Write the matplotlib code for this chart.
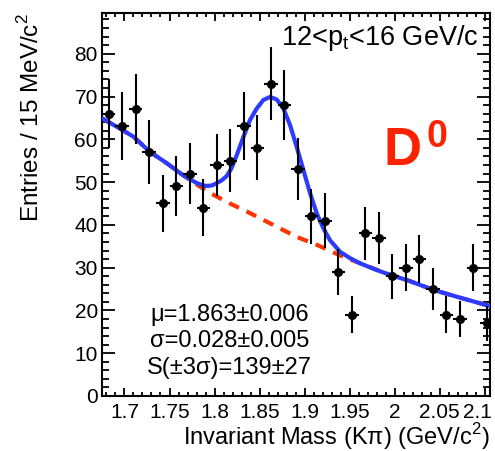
import numpy as np
import matplotlib
matplotlib.use("Agg")
import matplotlib.pyplot as plt
import matplotlib.transforms as mtransforms
from matplotlib.ticker import MultipleLocator, FormatStrFormatter

plt.rcParams['font.family'] = ['Liberation Sans', 'DejaVu Sans']
plt.rcParams['mathtext.fontset'] = 'custom'
plt.rcParams['mathtext.rm'] = 'Liberation Sans'

# histogram: bin centres (15 MeV bins) and counts
massa = [1.6825 + 0.015 * i for i in range(29)]
contagens = [66, 63, 67, 57, 45, 49, 52, 44, 54, 55, 63, 58, 73, 68, 53,
             42, 41, 29, 19, 38, 37, 28, 30, 32, 25, 19, 18, 30, 17]
erros = np.sqrt(contagens)

# fit curve (signal + background)
ajuste_x = [1.675, 1.695, 1.710, 1.728, 1.747, 1.765, 1.780, 1.786, 1.791,
            1.797, 1.802, 1.808, 1.8135, 1.819, 1.8247, 1.832, 1.8394,
            1.8469, 1.8543, 1.8617, 1.8691, 1.8765, 1.8839, 1.8913, 1.8987,
            1.9061, 1.9135, 1.9209, 1.9283, 1.9394, 1.9506, 1.9617, 1.978,
            1.995, 2.0136, 2.043, 2.069, 2.106]
ajuste_y = [64.9, 62.5, 60.6, 57.1, 54.4, 51.6, 49.8, 49.3, 49.1,
            49.2, 49.7, 50.4, 51.4, 53.3, 56.3, 60.5, 64.5,
            67.2, 69.2, 69.9, 69.3, 67.2, 63.3, 58.2, 52.8,
            47.4, 42.7, 39.2, 36.4, 33.7, 32.2, 31.0, 29.6,
            28.3, 27.1, 24.8, 23.2, 21.0]

# background only
fundo_x = [1.675, 1.695, 1.710, 1.728, 1.747, 1.765, 1.784, 1.799, 1.817,
           1.836, 1.865, 1.891, 1.914, 1.939, 1.962, 1.995, 2.014, 2.043,
           2.069, 2.106]
fundo_y = [64.9, 62.5, 60.6, 57.1, 54.4, 51.6, 48.9, 47.0, 45.0,
           43.1, 40.0, 37.2, 35.3, 32.9, 31.0, 28.3, 27.1, 24.8,
           23.2, 21.0]

fig = plt.figure(figsize=(4.95, 4.51), dpi=100)
ax = fig.add_axes([0.206, 0.122, 0.784, 0.849])

ax.plot(fundo_x, fundo_y, color='#ff3300', lw=3, ls=(0, (2.6, 2.0)), zorder=2)
ax.plot(ajuste_x, ajuste_y, color='#2b3bff', lw=3, zorder=3,
        solid_capstyle='round', solid_joinstyle='round')
ax.errorbar(massa, contagens, yerr=erros, xerr=0.0075, fmt='o', color='black',
            ms=5.5, elinewidth=1.5, capsize=0, zorder=4)

ax.set_xlim(1.675, 2.106)
ax.set_ylim(0, 89.5)

ax.xaxis.set_major_locator(MultipleLocator(0.05))
ax.xaxis.set_minor_locator(MultipleLocator(0.01))
ax.xaxis.set_major_formatter(FormatStrFormatter('%g'))
ax.yaxis.set_major_locator(MultipleLocator(10))
ax.yaxis.set_minor_locator(MultipleLocator(2))

ax.tick_params(axis='both', which='both', direction='in', top=True, right=True,
               width=1.3, labelsize=15)
ax.tick_params(axis='x', which='major', length=6, pad=5)
ax.tick_params(axis='x', which='minor', length=2.6)
ax.tick_params(axis='y', which='major', length=9.5, pad=3)
ax.tick_params(axis='y', which='minor', length=4.8)
for s in ax.spines.values():
    s.set_linewidth(1.5)

# last x label (2.1) pushed a bit left so it stays inside the canvas
fig.canvas.draw()
ultimo = [t for t in ax.get_xticklabels() if t.get_text() == '2.1']
for t in ultimo:
    t.set_transform(t.get_transform() +
                    mtransforms.ScaledTranslation(-5 / 72, 0, fig.dpi_scale_trans))

ax.set_xlabel(u'Invariant Mass (K\u03c0) (GeV/c$^2$)', fontsize=17, loc='right')
ax.set_ylabel(r'Entries / 15 MeV/c$^2$', fontsize=17.5, loc='top')
ax.xaxis.set_label_coords(1.0, -0.066)
ax.yaxis.set_label_coords(-0.15, 1.0)

ax.text(2.0935, 82, r'12<p$_\mathregular{t}$<16 GeV/c', fontsize=19.5,
        ha='right', va='baseline')
ax.text(1.988, 54, 'D', fontsize=38, fontweight='bold', color='#ff2200',
        ha='left', va='baseline')
ax.text(2.035, 58.3, '0', fontsize=27, fontweight='bold', color='#ff2200',
        ha='left', va='baseline')

ax.text(1.8165, 18.9, u'\u03bc=1.863\u00b10.006', fontsize=17, ha='center', va='center')
ax.text(1.8165, 12.8, u'\u03c3=0.028\u00b10.005', fontsize=17, ha='center', va='center')
ax.text(1.8165, 6.5, u'S(\u00b13\u03c3)=139\u00b127', fontsize=17, ha='center', va='center')

fig.savefig('out.png', dpi=100)
